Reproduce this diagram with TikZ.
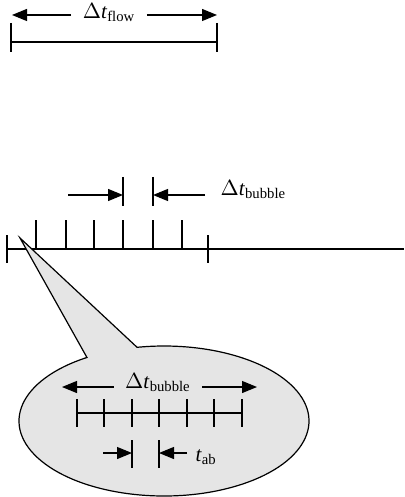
\documentclass[tikz,border=0pt]{standalone}
\usepackage{fontspec}
\setmainfont{Liberation Serif}
\usetikzlibrary{calc, positioning}
\usetikzlibrary{arrows.meta}

\definecolor{bubblegray}{gray}{0.9}
\newcommand{\dtsym}[1]{$\Delta$\textit{t}\textsubscript{#1}}

\tikzset{
  dimarrow/.style={-{Triangle[length=7.5pt, width=6pt]}},
  labeltext/.style={font=\fontsize{10.5pt}{12pt}\selectfont, inner ysep=0pt},
}

\begin{document}
\begin{tikzpicture}[x=0.5pt, y=-0.5pt, line width=0.6pt]
\useasboundingbox (0,0) rectangle (404,497);

% flow interval
\coordinate (FL) at (11,42);
\coordinate (FR) at (217,42);
\coordinate (FtipL) at (12,15);
\coordinate (FtipR) at (217,15);
\node[labeltext, inner xsep=5.5pt, anchor=base] (flow) at (109,18.5) {\dtsym{flow}};
\draw[dimarrow] (flow.west |- FtipL) -- (FtipL);
\draw[dimarrow] (flow.east |- FtipR) -- (FtipR);
\draw (FL) -- (FR);
\draw (FL) ++(0,-19) -- ++(0,29);
\draw (FR) ++(0,-19) -- ++(0,29);

% time axis with bubble ticks
\coordinate (A0) at (7,249);
\coordinate (A1) at (208,249);
\coordinate (Aend) at (404,249);
\draw (A0) -- (Aend);
\draw (A0) ++(0,-14) -- ++(0,28);
\draw (A1) ++(0,-14) -- ++(0,28);
\foreach \x in {36,66,94,123,153,182}
  \draw (\x,249) -- ++(0,-29);

% one bubble step
\coordinate (BbarL) at (123,195);
\coordinate (BbarR) at (153,195);
\node[labeltext, inner xsep=7.5pt, anchor=base west] (bub) at (205,195.5) {\dtsym{bubble}};
\draw (BbarL) ++(0,-18) -- ++(0,29);
\draw (BbarR) ++(0,-18) -- ++(0,29);
\draw[dimarrow] (68,195) -- (BbarL);
\draw[dimarrow] (bub.west |- BbarR) -- (BbarR);

% callout bubble
\coordinate (tip) at (20,238);
\coordinate (bubC) at (164,421);
\coordinate (bubL) at ($(bubC)+(122.1:72.5pt and 37.5pt)$);
\draw[fill=bubblegray] (tip) -- (bubL)
  arc[start angle=122.1, end angle=460.7, x radius=72.5pt, y radius=37.5pt]
  -- cycle;

% zoomed bubble
\coordinate (ZtipL) at (62,387);
\coordinate (ZtipR) at (257,387);
\node[labeltext, inner xsep=5.5pt, anchor=base] (zbub) at (158,388.5) {\dtsym{bubble}};
\draw[dimarrow] (zbub.west |- ZtipL) -- (ZtipL);
\draw[dimarrow] (zbub.east |- ZtipR) -- (ZtipR);
\draw (77,413) -- (242,413);
\foreach \x in {77,104,132,159,187,214,242}
  \draw (\x,399) -- ++(0,28);

% time between updates
\coordinate (TbarL) at (132,453);
\coordinate (TbarR) at (159,453);
\node[labeltext, inner xsep=4pt, anchor=base west] (tab) at (187,461) {\textit{t}\textsubscript{ab}};
\draw (TbarL) ++(0,-13) -- ++(0,28);
\draw (TbarR) ++(0,-13) -- ++(0,28);
\draw[dimarrow] (103,453) -- (TbarL);
\draw[dimarrow] (tab.west |- TbarR) -- (TbarR);
\end{tikzpicture}
\end{document}
